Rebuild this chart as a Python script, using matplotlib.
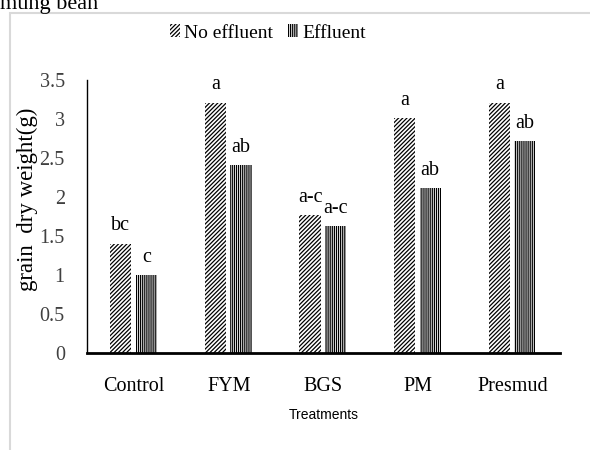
import matplotlib
matplotlib.use("Agg")
import matplotlib.pyplot as plt
import numpy as np
from matplotlib.patches import Rectangle
from matplotlib.font_manager import FontProperties

categories = ["Control", "FYM", "BGS", "PM", "Presmud"]
no_effluent = [1.40, 3.21, 1.77, 3.01, 3.21]
effluent = [1.00, 2.41, 1.63, 2.11, 2.72]
no_eff_letters = ["bc", "a", "a-c", "a", "a"]
eff_letters = ["c", "ab", "a-c", "ab", "ab"]
yticks = [0, 0.5, 1, 1.5, 2, 2.5, 3, 3.5]
ytick_labels = ["0", "0.5", "1", "1.5", "2", "2.5", "3", "3.5"]

serif = "Liberation Serif"
plt.rcParams["font.family"] = [serif, "DejaVu Serif"]
plt.rcParams["hatch.linewidth"] = 0.9

fig = plt.figure(figsize=(5.9, 4.5), dpi=100)
# outer light border of the chart area
fig.patches.append(Rectangle((10 / 590, -0.05), 1.0, 1 - 13 / 450 + 0.05,
                             transform=fig.transFigure, fill=False,
                             edgecolor="#d9d9d9", linewidth=1.5))
fig.text(0.0, 1.0 + 0.012, "mung bean", family=serif, fontsize=16,
         ha="left", va="top")

ax = fig.add_axes([87 / 590, 1 - 353 / 450, (560 - 87) / 590, (353 - 80) / 450])
x = np.arange(len(categories))
w = 0.225
gap = 0.03
b1 = ax.bar(x - w / 2 - gap, no_effluent, w, color="white", edgecolor="black",
            hatch="////////", linewidth=0, label="No effluent")
b2 = ax.bar(x + w / 2 + gap / 2, effluent, w, color="white", edgecolor="black",
            hatch="||||||||", linewidth=0, label="Effluent")

for rect, lab in zip(b1, no_eff_letters):
    ax.annotate(lab, (rect.get_x() + rect.get_width() / 2, rect.get_height()),
                xytext=(0, 6), textcoords="offset points", ha="center",
                va="bottom", family=serif, fontsize=14.5)
for rect, lab in zip(b2, eff_letters):
    ax.annotate(lab, (rect.get_x() + rect.get_width() / 2, rect.get_height()),
                xytext=(0, 6), textcoords="offset points", ha="center",
                va="bottom", family=serif, fontsize=14.5)

ax.set_xlim(-0.5, len(categories) - 0.5)
ax.set_ylim(0, 3.5)
ax.set_yticks(yticks)
ax.set_yticklabels(ytick_labels, family=serif, fontsize=14.5, color="#404040")
ax.set_xticks(x)
ax.set_xticklabels(categories, family=serif, fontsize=14.5)
ax.tick_params(axis="y", length=0, pad=16)
ax.tick_params(axis="x", length=0, pad=17)
for s in ["top", "right"]:
    ax.spines[s].set_visible(False)
ax.spines["left"].set_linewidth(1.0)
ax.spines["bottom"].set_linewidth(2.0)
ax.set_ylabel("grain  dry weight(g)", family=serif, fontsize=16.5)
ax.yaxis.set_label_coords(-0.103, 0.564)
ax.set_xlabel("Treatments", family="Liberation Sans", fontsize=10, labelpad=9)

leg = fig.legend(handles=[b1, b2], loc="center", bbox_to_anchor=(268 / 590, 1 - 33 / 450),
                 ncol=2, frameon=False, prop=FontProperties(family=serif, size=14),
                 handlelength=0.5, handleheight=0.6, handletextpad=0.2,
                 columnspacing=0.8)

fig.savefig("out.png", dpi=100)
